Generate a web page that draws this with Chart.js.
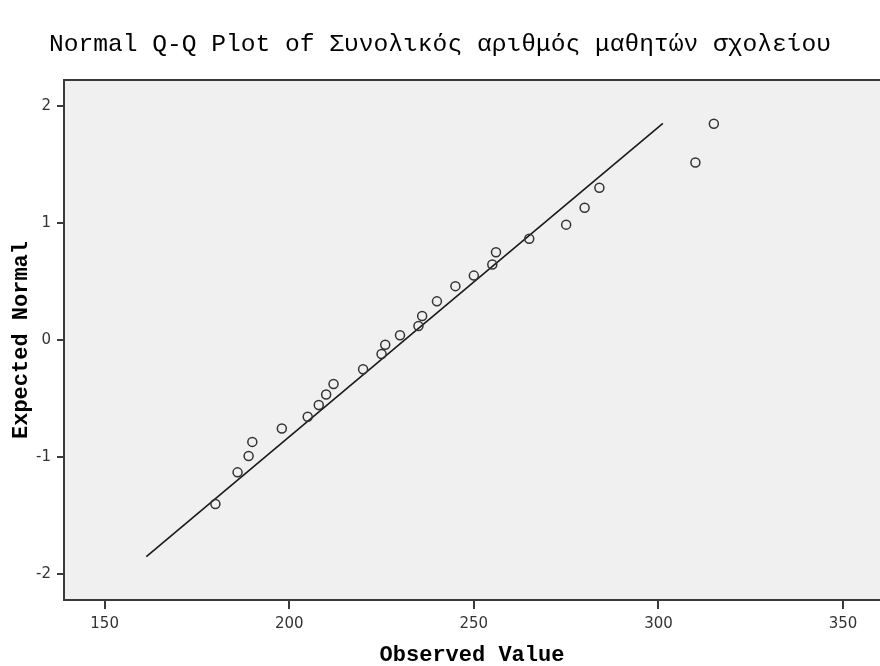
<!DOCTYPE html>
<html lang="el">
<head>
    <meta charset="utf-8">
    <title>Normal Q-Q Plot</title>
    <style>
        body { margin: 0; background: #ffffff; }
        canvas { display: block; }
    </style>
</head>
<body>
    <canvas id="qqChart" width="880" height="666"></canvas>
    <script src="https://cdn.jsdelivr.net/npm/chart.js"></script>
    <script>
        const observed = [180, 186, 189, 190, 198, 205, 208, 210, 212, 220, 225, 226, 230,
            235, 236, 240, 245, 250, 255, 256, 265, 275, 280, 284, 310, 315]
        const expected = [-1.40, -1.13, -0.99, -0.87, -0.755, -0.655, -0.555, -0.465, -0.375,
            -0.25, -0.12, -0.04, 0.04, 0.12, 0.205, 0.33, 0.46, 0.55, 0.645, 0.75, 0.865,
            0.985, 1.13, 1.30, 1.515, 1.846]
        // reference line end points
        const lineX = [161.3, 301.2]
        const lineY = [-1.85, 1.85]
        const xTicks = [150, 200, 250, 300, 350]
        const yTicks = [-2, -1, 0, 1, 2]

        const chartTitle = 'Normal Q-Q Plot of Συνολικός αριθμός μαθητών σχολείου'
        const xTitle = 'Observed Value'
        const yTitle = 'Expected Normal'

        const pointData = observed.map((v, i) => ({ x: v, y: expected[i] }))
        const lineData = lineX.map((v, i) => ({ x: v, y: lineY[i] }))

        // grey plot background plus the top frame line
        const plotFrame = {
            id: 'plotFrame',
            beforeDraw(chart) {
                const { ctx, chartArea } = chart
                ctx.save()
                ctx.fillStyle = '#f0f0f0'
                ctx.fillRect(chartArea.left, chartArea.top, chartArea.right - chartArea.left, chartArea.bottom - chartArea.top)
                ctx.restore()
            },
            afterDraw(chart) {
                const { ctx, chartArea } = chart
                ctx.save()
                ctx.strokeStyle = '#3a3a3a'
                ctx.lineWidth = 2
                ctx.beginPath()
                ctx.moveTo(chartArea.left - 1, chartArea.top)
                ctx.lineTo(chartArea.right, chartArea.top)
                ctx.stroke()
                ctx.restore()
            }
        }

        const tickFont = { family: '"DejaVu Sans", sans-serif', size: 15 }
        const axisTitleFont = { family: '"Liberation Mono", monospace', size: 22, weight: 'bold', lineHeight: 1 }

        const config = {
            type: 'scatter',
            data: {
                datasets: [
                    {
                        label: 'observed',
                        data: pointData,
                        pointStyle: 'circle',
                        pointRadius: 4.5,
                        pointBorderWidth: 1.5,
                        borderColor: '#333333',
                        backgroundColor: 'rgba(0,0,0,0)',
                        order: 1
                    },
                    {
                        label: 'line',
                        type: 'line',
                        data: lineData,
                        showLine: true,
                        pointRadius: 0,
                        borderColor: '#1a1a1a',
                        borderWidth: 1.6,
                        fill: false,
                        order: 2
                    }
                ]
            },
            options: {
                responsive: false,
                animation: false,
                // plot runs right up to the canvas edge
                layout: { padding: 0, autoPadding: false },
                plugins: {
                    legend: { display: false },
                    tooltip: { enabled: false },
                    title: {
                        display: true,
                        text: chartTitle,
                        color: '#000000',
                        font: { family: '"Liberation Mono", monospace', size: 24.6, weight: 'normal', lineHeight: 1.2 },
                        padding: { top: 30, bottom: 20.5 }
                    }
                },
                scales: {
                    x: {
                        type: 'linear',
                        min: 139,
                        max: 360,
                        afterFit: (scale) => { scale.height = 66 },
                        afterBuildTicks: (scale) => { scale.ticks = xTicks.map(v => ({ value: v })) },
                        grid: { drawOnChartArea: false, drawTicks: true, tickLength: 9, color: '#3a3a3a', lineWidth: 2 },
                        border: { display: true, color: '#3a3a3a', width: 2 },
                        ticks: { color: '#333333', font: tickFont, padding: 6, maxRotation: 0 },
                        title: { display: true, text: xTitle, color: '#000000', font: axisTitleFont, padding: { top: 0, bottom: 0 } }
                    },
                    y: {
                        type: 'linear',
                        min: -2.22,
                        max: 2.22,
                        afterFit: (scale) => { scale.width = 64 },
                        afterBuildTicks: (scale) => { scale.ticks = yTicks.map(v => ({ value: v })) },
                        grid: { drawOnChartArea: false, drawTicks: true, tickLength: 7, color: '#3a3a3a', lineWidth: 2 },
                        border: { display: true, color: '#3a3a3a', width: 2 },
                        ticks: { color: '#333333', font: tickFont, padding: 6 },
                        title: { display: true, text: yTitle, color: '#000000', font: axisTitleFont, padding: { top: 10, bottom: 0 } }
                    }
                }
            },
            plugins: [plotFrame]
        };
        const ctx = document.getElementById('qqChart').getContext('2d');
        const qqChart = new Chart(ctx, config)
    </script>
</body>
</html>
